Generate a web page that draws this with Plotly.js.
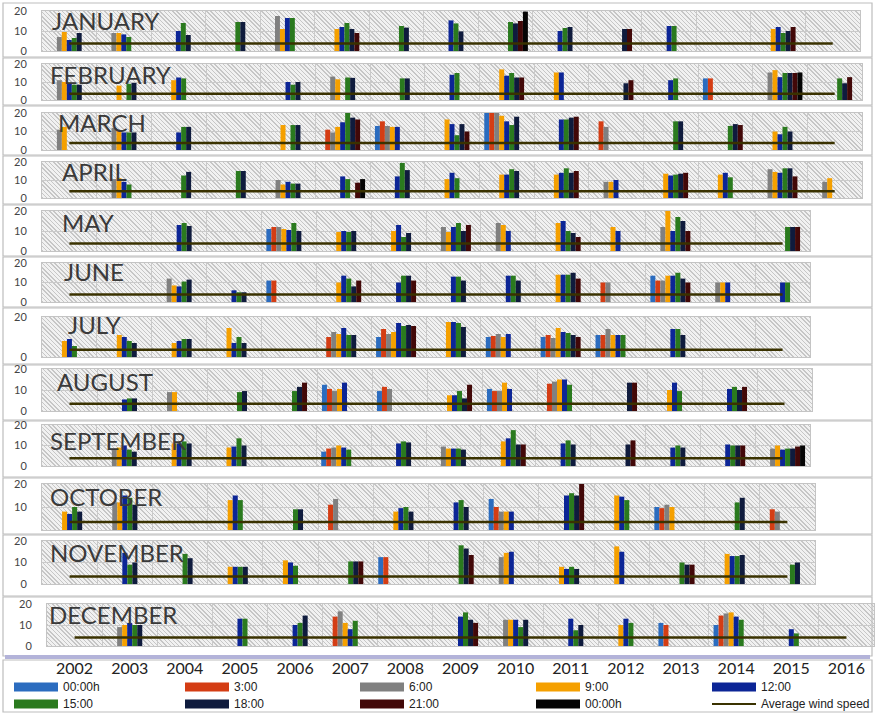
<!DOCTYPE html>
<html><head><meta charset="utf-8">
<script src="https://cdn.plot.ly/plotly-3.0.1.min.js"></script>
<style>
html,body{margin:0;padding:0;background:#fff;}
#wrap{position:relative;width:875px;height:714px;overflow:hidden;}
#chart{position:absolute;left:0;top:0;width:875px;height:714px;}
.hatch{position:absolute;background:repeating-linear-gradient(45deg,#c6c6c6 0px,#c6c6c6 1px,#f1f1f1 1px,#f1f1f1 3px);}
</style></head>
<body><div id="wrap"><div id="chart"></div></div>
<script>
// ---------- DATA ----------
const years = ['2002','2003','2004','2005','2006','2007','2008','2009','2010','2011','2012','2013','2014','2015','2016'];
const seriesNames = ['00:00h','3:00','6:00','9:00','12:00','15:00','18:00','21:00','00:00h'];
const monthNames = ['JANUARY','FEBRUARY','MARCH','APRIL','MAY','JUNE','JULY','AUGUST','SEPTEMBER','OCTOBER','NOVEMBER','DECEMBER'];
// rows = years, columns = series (0 = no bar)
const jan = [
 [0,0,7,9.5,5.5,6.5,9,0,0],
 [0,0,9,9,8.3,7,0,0,0],
 [0,0,0,0,10,14,8,0,0],
 [0,0,0,0,0,14.5,14.5,0,0],
 [0,0,17.5,11,16.5,16.5,0,0,0],
 [0,0,0,11,12,14,11,9,0],
 [0,0,0,0,0,12.5,11.7,0,0],
 [0,0,0,0,15.3,13.8,9.8,0,0],
 [0,0,0,0,0,14.5,13.8,15,19.7],
 [0,0,0,0,10,11.5,12,0,0],
 [0,0,0,0,0,0,11,11,0],
 [0,0,0,0,12.5,12.5,0,0,0],
 [0,0,0,0,0,0,0,0,0],
 [0,0,0,11,12,9,10,12,0],
 [0,0,0,0,0,0,0,0,0]
];
const feb = [
 [0,0,11,10,9,8.5,8.5,0,0],
 [0,0,0,8,0,9,9.5,0,0],
 [0,0,0,11,12.5,12,0,0,0],
 [0,0,0,0,0,0,0,0,0],
 [0,0,0,0,10,8.5,10,0,0],
 [0,0,13,11.5,0,12.5,12.3,0,0],
 [0,0,0,0,0,12,12,0,0],
 [0,0,0,0,14,15,0,0,0],
 [0,0,0,17,13.5,15,12.5,12.5,0],
 [0,0,0,15.3,15.3,0,0,0,0],
 [0,0,0,0,0,0,9.3,11,0],
 [0,0,0,0,11,12,0,0,0],
 [12,12,0,0,0,0,0,0,0],
 [0,0,15.3,16.6,12.7,15,15,15,15.3],
 [0,0,0,0,0,12,9.3,12.7,0]
];
const mar = [
 [0,0,11,12.5,0,0,0,0,0],
 [0,0,12,10.5,9.5,9.5,9.5,0,0],
 [0,0,0,0,9.5,12.5,12.5,0,0],
 [0,0,0,0,0,0,0,0,0],
 [0,0,0,13.5,0,13.5,13.5,0,0],
 [0,11,9.5,12.5,15,20,17.5,16.5,0],
 [13,15.5,13,12.5,12.5,0,0,0,0],
 [0,0,0,16.5,14,8,14,10,0],
 [20,20,20,18.5,15.5,13.5,18,0,0],
 [0,0,0,0,16.5,16.5,17.5,18,0],
 [0,15.5,12.5,0,0,0,0,0,0],
 [0,0,0,0,0,15.5,15.5,0,0],
 [0,0,0,0,0,13,14,13.5,0],
 [0,0,0,10,8.5,12.5,10,0,0],
 [0,0,0,0,0,0,0,0,0]
];
const apr = [
 [0,0,0,0,0,0,0,0,0],
 [0,0,10.5,11,9,7.5,0,0,0],
 [0,0,0,0,0,12.5,14.5,0,0],
 [0,0,0,0,0,15,15,0,0],
 [0,0,10,7.5,9,8,8,0,0],
 [0,0,0,0,12,10.5,0,8.5,10.5],
 [0,0,0,0,12,19.5,15.5,0,0],
 [0,0,0,10.5,14,11,0,0,0],
 [0,0,0,13,13,16,15,0,0],
 [0,0,0,13,14,16.5,14,15,0],
 [0,0,9,9,10,0,0,0,0],
 [0,0,0,13.5,12.5,13,13.5,14,0],
 [0,0,0,13,14,11.5,0,0,0],
 [0,0,16,14.5,14,16.5,16.5,12,0],
 [0,0,9,11,0,0,0,0,0]
];
const may = [
 [0,0,0,0,0,0,0,0,0],
 [0,0,0,0,0,0,0,0,0],
 [0,0,0,0,13,14,12.5,0,0],
 [0,0,0,0,0,0,0,0,0],
 [11,12,12,11,10.5,14,10,0,0],
 [0,0,0,9.5,10,9.5,10,0,0],
 [0,0,0,10,13,7,9,0,0],
 [0,0,12,9.5,12,14,10,13,0],
 [0,0,14,13,10,0,0,0,0],
 [0,0,0,14,15,10,9,7,0],
 [0,0,0,12,10,0,0,0,0],
 [0,0,12,20,10,17,15,10,0],
 [0,0,0,0,0,0,0,0,0],
 [0,0,0,0,0,12,12,12,0]
];
const jun = [
 [0,0,0,0,0,0,0,0,0],
 [0,0,0,0,0,0,0,0,0],
 [0,0,12,8.5,8,10.5,11.5,0,0],
 [0,0,0,0,6,5,5,0,0],
 [11,11,0,0,0,0,0,0,0],
 [0,0,0,10,13.5,12,8,11,0],
 [0,0,0,0,10,13.5,13.5,11,0],
 [0,0,0,0,13,13,11,0,0],
 [0,0,0,0,13.5,13.5,11,0,0],
 [0,0,0,14,14,14,15,12,0],
 [0,10,10,0,0,0,0,0,0],
 [13.5,11,11,13.5,13.5,15,12,10,0],
 [0,0,10,10,10,0,0,0,0],
 [0,0,0,0,10,10,0,0,0]
];
const jul = [
 [0,0,0,8,9,5.5,0,0,0],
 [0,0,0,11,10,8,7,0,0],
 [0,0,0,7,8,9,9,0,0],
 [0,0,0,14.5,7,10,7,0,0],
 [0,0,0,0,0,0,0,0,0],
 [0,10,12.5,11.5,14.5,11,11,0,0],
 [10,14,11.5,12.5,17,15.5,16,15.5,0],
 [0,0,0,17.5,17.5,17,15,0,0],
 [10,10.5,11.5,10,11.5,0,0,0,0],
 [10,11,9.5,14.5,12.5,12,11,10,0],
 [11,11,14,11,11,11,0,0,0],
 [0,0,0,0,14,14,11,0,0],
 [0,0,0,0,0,0,0,0,0],
 [0,0,0,0,0,0,0,0,0]
];
const aug = [
 [0,0,0,0,0,0,0,0,0],
 [0,0,0,0,5.5,6,6,0,0],
 [0,0,9,9,0,0,0,0,0],
 [0,0,0,0,0,9,9.5,0,0],
 [0,0,0,0,0,9.5,11.5,13.5,0],
 [12.5,10.5,9.5,10.5,13.5,0,0,0,0],
 [9.5,11.5,10.5,0,0,0,0,0,0],
 [0,0,0,7.5,7.5,9.5,6,12.5,0],
 [10.5,9.5,9.5,13.5,10.5,0,0,0,0],
 [0,13,14,15,15,12.5,0,0,0],
 [0,0,0,0,0,0,13.5,13.5,0],
 [0,0,0,10,13.5,9.5,0,0,0],
 [0,0,0,0,10.5,11.5,10,11.5,0],
 [0,0,0,0,0,0,0,0,0]
];
const sep = [
 [0,0,0,0,0,0,0,0,0],
 [0,0,8,9,10,8,7,0,0],
 [0,0,0,11,11,12,11,0,0],
 [0,0,0,9,9.5,13.5,10,0,0],
 [0,0,0,0,0,0,0,0,0],
 [7,8.5,9,10,9,8,0,0,0],
 [0,0,0,0,11,12,11.5,0,0],
 [0,0,9.5,8.5,8.5,8.5,8,0,0],
 [0,0,0,12,13.5,17.5,10.5,10.5,0],
 [0,0,0,0,11,12.5,10.5,0,0],
 [0,0,0,0,0,0,10.5,12.5,0],
 [0,0,0,0,9,10,9,0,0],
 [0,0,0,0,10.5,10,10,10,0],
 [0,0,8.5,10,8,8.5,8.5,9.5,10]
];
const oct = [
 [0,0,0,8,7,10,8,0,0],
 [0,0,12,12,15,14,11,0,0],
 [0,0,0,0,0,0,0,0,0],
 [0,0,0,13,15,13,0,0,0],
 [0,0,0,0,0,9,9,0,0],
 [0,11,13.5,0,0,0,0,0,0],
 [0,0,0,8,9.5,10,8,0,0],
 [0,0,0,0,12,13,10,0,0],
 [13.5,10,8,8,8,0,0,0,0],
 [0,0,0,0,15,16,15,20,0],
 [0,0,0,15,14.5,13,0,0,0],
 [10,9.5,11,10,0,0,0,0,0],
 [0,0,0,0,0,12,14,0,0],
 [0,9,8,0,0,0,0,0,0]
];
const nov = [
 [0,0,0,0,0,0,0,0,0],
 [0,0,0,0,14.5,9,10,0,0],
 [0,0,0,0,0,14,12,0,0],
 [0,0,0,8,8,8,8,0,0],
 [0,0,0,11,10,8.5,0,0,0],
 [0,0,0,0,0,10.5,10.5,10.5,0],
 [12.5,12.5,0,0,0,0,0,0,0],
 [0,0,0,0,0,18,16.5,13.5,0],
 [0,0,12.5,14.5,15,0,0,0,0],
 [0,0,0,8,7,8,7,0,0],
 [0,0,0,17.5,15,0,0,0,0],
 [0,0,0,0,0,10,9,9,0],
 [0,0,0,14,13,13,13.5,0,0],
 [0,0,0,0,0,9,10,0,0]
];
const dec = [
 [0,0,0,0,0,0,0,0,0],
 [0,0,9,10,11,10,10,0,0],
 [0,0,0,0,0,0,0,0,0],
 [0,0,0,0,13,13,0,0,0],
 [0,0,0,0,10,11,14.5,0,0],
 [0,14,16.5,11,8,12,0,0,0],
 [0,0,0,0,0,0,0,0,0],
 [0,0,0,0,14,16,12.5,11,0],
 [0,0,12.5,12.5,12.5,9,12.5,0,0],
 [0,0,0,0,13,7.5,10,0,0],
 [0,0,0,10,13,11,0,0,0],
 [11,10,0,0,0,0,0,0,0],
 [10,14.5,15.5,16,14,12.5,0,0,0],
 [0,0,0,0,8,6,0,0,0],
 [0,0,0,0,0,0,0,0,0]
];
const avgWind = [3.8,3.5,3.8,3.8,3.8,3.8,3.6,3.5,3.8,3.5,3.5,4.0];
const yTicks = [[0,10,20],[0,10,20],[0,10,20],[0,10,20],[0,10,20],[0,10,20],[0,20],[0,10,20],[0,10,20],[10,20],[0,10,20],[0,10,20]];

// ---------- STYLE / GEOMETRY ----------
const seriesColors = ['#2b6cbf','#d43d14','#808080','#f5a000','#0c2596','#2a7a1e','#0f1b3d','#420808','#050505'];
const lineColor = '#3a3200';
const W = 875, H = 714;
// [top(20), bottom(0), left, right] in px
const geom = [
 [11,51,42,860],[64,100,42,862],[113,150,42,862],[162,198,42,862],
 [211,251,42,810],[263,302,42,810],[317,357,42,810],[369,411,42,812],
 [425,466,42,810],[484,530,42,815],[541,584,42,815],[604,646,47,874]
];
const frames = [[3,57],[58,105],[106,155],[156,204],[205,256],[257,307],[308,364],[365,420],[421,477],[478,534],[535,596],[597,656]];
const labelPos = [[50,20],[48,75],[56,122],[60,171],[60,222],[62,271],[66,325],[55,381],[48,440],[48,496],[48,552],[47,614]];

const monthData = [jan,feb,mar,apr,may,jun,jul,aug,sep,oct,nov,dec];
const wrap = document.getElementById('wrap');
const traces = [];
const layout = {
  width: W, height: H, margin:{l:0,r:0,t:0,b:0},
  paper_bgcolor:'rgba(0,0,0,0)', plot_bgcolor:'rgba(0,0,0,0)',
  barmode:'group', bargap:0.18, bargroupgap:0, showlegend:false,
  font:{family:'Lato, "Open Sans", sans-serif', color:'#333'},
  shapes:[], annotations:[]
};
const px = x => x / W, py = y => 1 - y / H;

monthData.forEach((rows, m) => {
  const n = rows.length;
  const cats = years.slice(0, n);
  const sfx = m === 0 ? '' : String(m + 1);
  const [top, bot, left, right] = geom[m];
  const d = document.createElement('div');
  d.className = 'hatch';
  d.style.left = left + 'px'; d.style.top = top + 'px';
  d.style.width = (right - left) + 'px'; d.style.height = (bot - top) + 'px';
  wrap.insertBefore(d, wrap.firstChild);

  for (let s = 0; s < seriesNames.length; s++) {
    traces.push({
      type:'bar', name: seriesNames[s], x: cats,
      y: rows.map(r => r[s] === 0 ? null : r[s]),
      xaxis:'x' + sfx, yaxis:'y' + sfx,
      marker:{color: seriesColors[s], line:{width:0}},
      hoverinfo:'x+y+name'
    });
  }
  traces.push({
    type:'scatter', mode:'lines', name:'Average wind speed',
    x:[cats[0], cats[n-1]], y:[avgWind[m], avgWind[m]],
    xaxis:'x' + sfx, yaxis:'y' + sfx,
    line:{color: lineColor, width: 2.5}
  });
  layout['xaxis' + sfx] = {
    domain:[px(left), px(right)], anchor:'y' + sfx, type:'category',
    categoryorder:'array', categoryarray: cats, range:[-0.5, n - 0.5],
    tickson:'boundaries', showgrid:true, gridcolor:'#cacaca', gridwidth:1,
    showline:true, linecolor:'#c4c4c4', mirror:true, ticks:'',
    showticklabels: m === 11, ticklabelstandoff: 8,
    tickfont:{size:16, color:'#222', family:'Lato, sans-serif'}, fixedrange:true
  };
  layout['yaxis' + sfx] = {
    domain:[py(bot), py(top)], anchor:'x' + sfx, range:[0,20],
    tickvals: yTicks[m], showgrid:true, gridcolor:'#cacaca', zeroline:false,
    showline:true, linecolor:'#c4c4c4', mirror:true, ticks:'', ticklabelstandoff: 12,
    tickfont:{size:11, color:'#444', family:'Lato, sans-serif'}, fixedrange:true
  };
  layout.shapes.push({type:'rect', xref:'paper', yref:'paper', x0:px(3), x1:px(872),
    y0:py(frames[m][1]), y1:py(frames[m][0]), line:{color:'#bdbdbd', width:1.2}, layer:'below'});
  layout.annotations.push({xref:'paper', yref:'paper', x:px(labelPos[m][0]), y:py(labelPos[m][1]),
    xanchor:'left', yanchor:'middle', showarrow:false, text: monthNames[m],
    font:{size:24, color:'#3a3a3a', family:'Lato, sans-serif'}});
});

layout.shapes.push({type:'rect', xref:'paper', yref:'paper', x0:px(5), x1:px(870), y0:py(659), y1:py(655),
  fillcolor:'#b3b3d9', line:{width:0}});
layout.shapes.push({type:'rect', xref:'paper', yref:'paper', x0:px(3), x1:px(872), y0:py(712), y1:py(660),
  line:{color:'#bdbdbd', width:1.2}});

// manual legend
const legX = [14, 185, 360, 536, 712];
const legY = [687, 704];
const legendItems = seriesNames.map((nm, i) => ({name:nm, color:seriesColors[i], kind:'bar'}));
legendItems.push({name:'Average wind speed', color:lineColor, kind:'line'});
legendItems.forEach((it, i) => {
  const col = i % 5, row = Math.floor(i / 5);
  const x0 = legX[col], yc = legY[row];
  if (it.kind === 'bar') {
    layout.shapes.push({type:'rect', xref:'paper', yref:'paper', x0:px(x0), x1:px(x0+44),
      y0:py(yc+4.5), y1:py(yc-4.5), fillcolor:it.color, line:{width:0}});
  } else {
    layout.shapes.push({type:'line', xref:'paper', yref:'paper', x0:px(x0), x1:px(x0+44),
      y0:py(yc), y1:py(yc), line:{color:it.color, width:2}});
  }
  layout.annotations.push({xref:'paper', yref:'paper', x:px(x0+47), y:py(yc), xanchor:'left', yanchor:'middle',
    showarrow:false, text:it.name, font:{size:12, color:'#222', family:'"Liberation Sans", Arial, sans-serif'}});
});

Plotly.newPlot('chart', traces, layout, {displayModeBar:false, staticPlot:true});
</script></body></html>
